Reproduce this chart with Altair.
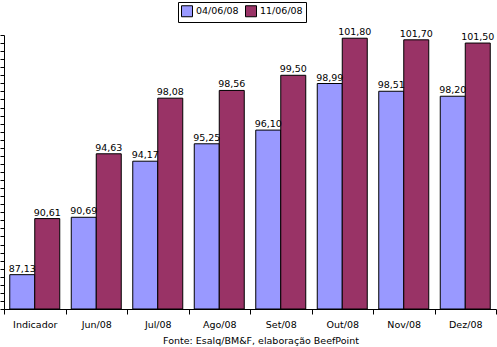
import altair as alt
import pandas as pd

categories = ["Indicador", "Jun/08", "Jul/08", "Ago/08", "Set/08", "Out/08", "Nov/08", "Dez/08"]
series_names = ["04/06/08", "11/06/08"]
s_0406 = [87.13, 90.69, 94.17, 95.25, 96.10, 98.99, 98.51, 98.20]
s_1106 = [90.61, 94.63, 98.08, 98.56, 99.50, 101.80, 101.70, 101.50]
y_min, y_max = 85, 102
colors = ["#9999FF", "#993366"]
footer = "Fonte: Esalq/BM&F, elaboração BeefPoint"

rows = []
for c, a, b in zip(categories, s_0406, s_1106):
    rows.append({"cat": c, "serie": series_names[0], "v": a})
    rows.append({"cat": c, "serie": series_names[1], "v": b})
df = pd.DataFrame(rows)

FONT = "DejaVu Sans"
FS = 9.5

x = alt.X("cat:N", sort=categories, title=None,
          scale=alt.Scale(paddingInner=0, paddingOuter=0),
          axis=alt.Axis(labelAngle=0, tickBand="extent", tickSize=5, labelPadding=5,
                        domainColor="black", tickColor="black", labelColor="black",
                        labelFont=FONT, labelFontSize=FS, grid=False,
                        labelOverlap=False, labelBound=False))
xo = alt.XOffset("serie:N", sort=series_names,
                 scale=alt.Scale(paddingInner=0, paddingOuter=0.23))
y = alt.Y("v:Q", scale=alt.Scale(domain=[y_min, y_max], zero=False, nice=False), title=None,
          axis=alt.Axis(values=[y_min + 0.5 * i for i in range(35)], labels=False,
                        tickSize=4, domainColor="black", tickColor="black", grid=False))

base = alt.Chart(df)

bars = base.mark_bar(stroke="black", strokeWidth=1).encode(
    x=x, xOffset=xo, y=y, y2=alt.datum(y_min),
    color=alt.Color("serie:N", sort=series_names,
                    scale=alt.Scale(domain=series_names, range=colors),
                    legend=alt.Legend(title=None, orient="none", direction="horizontal",
                                      legendX=174, legendY=-33, symbolType="square",
                                      symbolSize=121, symbolStrokeColor="black",
                                      symbolStrokeWidth=1, symbolOpacity=1,
                                      labelFont=FONT, labelFontSize=FS, labelColor="black",
                                      strokeColor="black", fillColor="white", padding=3,
                                      columnPadding=4, labelOffset=3)),
)

labels = base.mark_text(baseline="bottom", dy=-1, font=FONT, fontSize=FS, color="black").encode(
    x=x, xOffset=xo, y=y,
    text="lbl:N",
).transform_calculate(lbl="replace(format(datum.v, '.2f'), '.', ',')")

foot = alt.Chart(pd.DataFrame({"t": [footer]})).mark_text(
    font=FONT, fontSize=FS, color="black", baseline="middle", align="center"
).encode(text="t:N", x=alt.value(257), y=alt.value(306))

chart = alt.layer(bars, labels, foot).properties(
    width=492, height=274,
    autosize=alt.AutoSizeParams(type="none"),
    padding={"left": 4, "top": 35, "right": 1, "bottom": 38},
    background="white",
).configure_view(stroke=None)

chart.save("out.html", embed_options={"renderer": "svg", "actions": False})
